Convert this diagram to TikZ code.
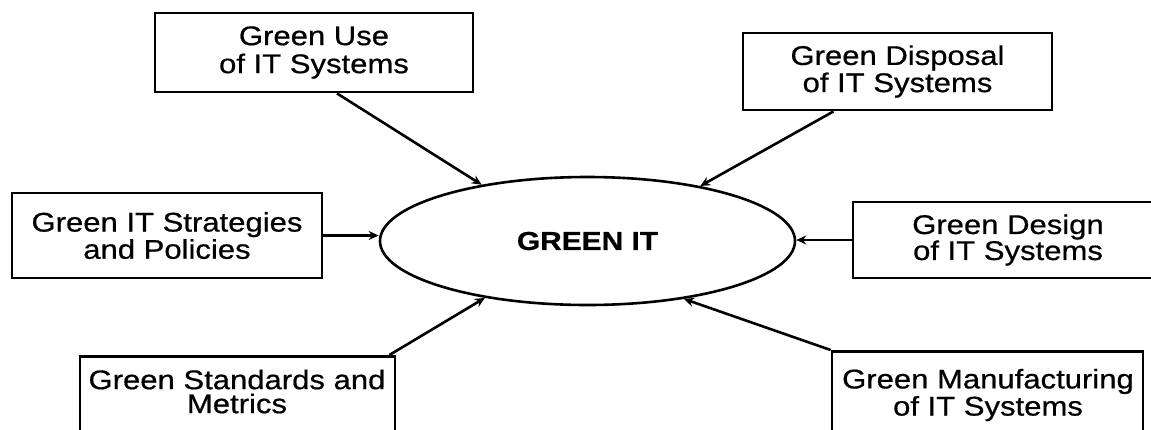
\documentclass[tikz,border=0pt]{standalone}
\usepackage{fontspec}
\setmainfont{Liberation Sans}[FakeStretch=1.15, FakeBold=0.6]
\usetikzlibrary{arrows.meta,shapes.geometric}
\begin{document}
\begin{tikzpicture}[x=0.5pt,y=-0.5pt,
  frame/.style={draw, line width=1.4pt, inner sep=0pt},
  txt/.style={align=center, font=\fontsize{13.5}{#1}\selectfont},
  txt/.default=12.5pt,
  link/.style={line width=1.3pt, -{Stealth[length=5pt,width=4.5pt]}}]
\useasboundingbox (0,0) rectangle (1151,429);
\clip (0,0) rectangle (1151,429);
\node[ellipse, draw, line width=1.3pt, minimum width=207.5pt, minimum height=64pt,
      inner sep=0pt, font=\bfseries\fontsize{13}{15}\selectfont] (core) at (587.5,241) {GREEN IT};
\node[frame, txt=14pt, minimum width=159pt, minimum height=39.5pt] (use) at (314,52.5) {Green Use\\of IT Systems};
\node[frame, txt=12pt, minimum width=154.5pt, minimum height=38.5pt] (disp) at (897.5,71.5) {Green Disposal\\of IT Systems};
\node[frame, txt=12pt, minimum width=155pt, minimum height=42.5pt] (strat) at (167,235.5) {Green IT Strategies\\and Policies};
\node[frame, txt=13pt, minimum width=155pt, minimum height=38pt] (design) at (1008,240) {Green Design\\of IT Systems};
\node[frame, minimum width=157.5pt, minimum height=60pt, anchor=north] (std) at (237.5,355) {};
\node[txt=12pt] (stdtxt) at (237,391.5) {Green Standards and\\Metrics};
\node[frame, minimum width=155.5pt, minimum height=60pt, anchor=north] (manu) at (987.5,350) {};
\node[txt=11pt] (manutxt) at (988,395) {Green Manufacturing\\of IT Systems};
\draw[link] ([xshift=11.5pt]use.south) -- (core.152.7);
\draw[link] ([xshift=-32pt]disp.south) -- (core.26.7);
\draw[link] (strat.east) -- (strat.east -| core.west);
\draw[link] (design.west) -- (design.west -| core.east);
\draw[link] ([xshift=-3.5pt]std.north east) -- (core.209.9);
\draw[link] (manu.north west) -- (core.329.6);
\end{tikzpicture}
\end{document}
